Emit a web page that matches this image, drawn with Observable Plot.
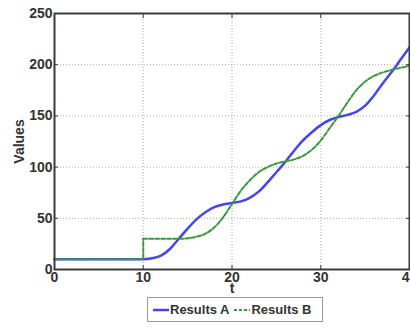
<!DOCTYPE html>
<html>
<head>
<meta charset="utf-8">
<script src="https://cdn.jsdelivr.net/npm/d3@7"></script>
<script src="https://cdn.jsdelivr.net/npm/@observablehq/plot@0.6"></script>
<style>
  html, body { margin: 0; padding: 0; background: #fff; }
  #wrap { position: relative; width: 410px; height: 328px; font-family: "Liberation Sans", Arial, sans-serif; }
  #legend { position: absolute; left: 147px; top: 297px; width: 174px; height: 23px; border: 1px solid #999; background: #fff;
            display: flex; align-items: center; font-size: 13px; font-weight: bold; color: #333; white-space: nowrap; }
  #legend svg { display: block; flex: none; }
</style>
</head>
<body>
<div id="wrap">
  <div id="chart"></div>
  <div id="legend">
    <svg width="18" height="10" style="margin-left:4px"><line x1="1" x2="17" y1="5" y2="5" stroke="#4545f0" stroke-width="2.5"/></svg>
    <span>Results A</span>
    <svg width="18" height="10" style="margin-left:4px"><line x1="1" x2="17" y1="5" y2="5" stroke="#3a9a3a" stroke-width="2" stroke-dasharray="3,2"/></svg>
    <span>Results B</span>
  </div>
</div>
<script>
const tA = [0,1,2,3,4,5,6,7,8,9,10,11,12,13,14,15,16,17,18,19,20,21,22,23,24,25,26,27,28,29,30,31,32,33,34,35,36,37,38,39,40];
const valuesA = [10,10,10,10,10,10,10,10,10,10,10,11,13.5,20,30,40,49,56,61,63.5,65,66.5,70,76,85,95,105,116,126,134,141,146,149,151,154,160,170,182,193,205,217];
const tB = [0,1,2,3,4,5,6,7,8,9,10,10,11,12,13,14,15,16,17,18,19,20,21,22,23,24,25,26,27,28,29,30,31,32,33,34,35,36,37,38,39,40];
const valuesB = [10,10,10,10,10,10,10,10,10,10,10,30,30,30,30,30,30.5,32,35,41,51,64,77,87,95,100,103.5,105.5,107.5,111,117,126,138,150,163,175,183.5,189,192.5,195,197,199];
const xTicks = [0,10,20,30,40];
const yTicks = [0,50,100,150,200,250];
const seriesNames = ["Results A", "Results B"];

const dataA = tA.map((t, i) => ({t, v: valuesA[i]}));
const dataB = tB.map((t, i) => ({t, v: valuesB[i], i}));
const jumpIndex = tB.findIndex((t, i) => i > 0 && t === tB[i - 1]);
const dataB1 = dataB.filter(d => d.i <= jumpIndex);
const dataB2 = dataB.filter(d => d.i >= jumpIndex);

const blue = "#4545f0";
const green = "#3a9a3a";
const frameColor = "#3a3a3a";

const chart = Plot.plot({
  width: 410,
  height: 295,
  marginLeft: 54,
  marginRight: 1,
  marginTop: 13,
  marginBottom: 26,
  style: { fontFamily: "Liberation Sans, Arial, sans-serif", fontSize: "14px", fontWeight: "bold", color: "#333" },
  x: { domain: [0, 40], ticks: xTicks },
  y: { domain: [0, 250], ticks: yTicks },
  marks: [
    Plot.gridX(xTicks.slice(1, -1), { stroke: "#888", strokeOpacity: 0.7, strokeDasharray: "1,2" }),
    Plot.gridY(yTicks.slice(1, -1), { stroke: "#888", strokeOpacity: 0.7, strokeDasharray: "1,2" }),
    Plot.line(dataA, { x: "t", y: "v", stroke: blue, strokeWidth: 2.5, curve: "monotone-x" }),
    Plot.line(dataB1, { x: "t", y: "v", stroke: green, strokeWidth: 2, strokeDasharray: "4,2" }),
    Plot.line(dataB2, { x: "t", y: "v", stroke: green, strokeWidth: 2, strokeDasharray: "4,2", curve: "monotone-x" }),
    Plot.axisX(xTicks, { anchor: "bottom", tickSize: 0, tickPadding: 3, label: "t", labelAnchor: "center", labelOffset: 23, labelArrow: "none", fill: "#333" }),
    Plot.axisX(xTicks, { anchor: "bottom", tickSize: -4, text: null, label: null, stroke: frameColor }),
    Plot.axisX(xTicks, { anchor: "top", tickSize: -4, text: null, label: null, stroke: frameColor }),
    Plot.axisY(yTicks, { anchor: "left", tickSize: 0, tickPadding: 2, label: "Values", labelAnchor: "center", labelOffset: 40, labelArrow: "none", fill: "#333" }),
    Plot.axisY(yTicks, { anchor: "left", tickSize: -4, text: null, label: null, stroke: frameColor }),
    Plot.axisY(yTicks, { anchor: "right", tickSize: -4, text: null, label: null, stroke: frameColor }),
    Plot.frame({ stroke: frameColor, strokeWidth: 2 })
  ]
});
document.getElementById("chart").appendChild(chart);
</script>
</body>
</html>
